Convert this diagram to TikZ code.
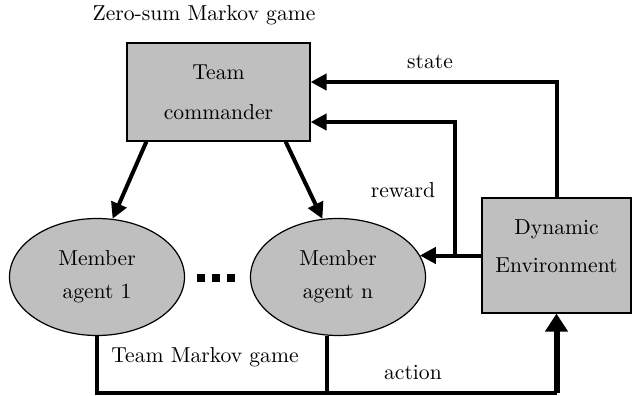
\documentclass[tikz,border=0pt]{standalone}
\usetikzlibrary{arrows.meta,shapes.geometric}
\begin{document}
\begin{tikzpicture}[x=0.5pt, y=-0.5pt,
    every node/.style={font=\rmfamily\fontsize{10.8}{13}\selectfont},
    box/.style={draw, fill=black!25, rectangle, line width=0.6pt, align=center},
    agent/.style={draw, fill=black!25, ellipse, line width=0.6pt, minimum width=87.5pt, minimum height=58.5pt, align=center, font=\rmfamily\fontsize{10.8}{16.5}\selectfont},
    link/.style={line width=2pt},
    flow/.style={line width=2pt, -{Triangle[length=8pt, width=8pt]}}]
  \useasboundingbox (0,0) rectangle (633,396);
  % Boxes and agents
  \node (title) at (204,15) {Zero-sum Markov game};
  \node[box, minimum width=91.5pt, minimum height=49pt, font=\rmfamily\fontsize{10.8}{20}\selectfont] (cmd) at (218.5,92) {Team\\commander};
  \node[box, minimum width=74.5pt, minimum height=57.5pt] (env) at (556.5,255.5) {};
  \node[align=center, font=\rmfamily\fontsize{10.8}{19}\selectfont] (envtext) at (env.center) [yshift=4.5pt] {Dynamic\\Environment};
  \node[agent] (agent1) at (97,277) {Member\\agent 1};
  \node[agent] (agentn) at (338,277) {Member\\agent n};
  \foreach \x in {201,216,231} \fill (\x-4,274) rectangle ++(8,8);
  % Commander to agents
  \draw[flow] ([xshift=10pt]cmd.south west) -- (agent1.75);
  \draw[flow] ([xshift=-12.5pt]cmd.south east) -- (agentn.105);
  % State and reward
  \draw[flow] (env.north) |- ([yshift=5pt]cmd.east);
  \coordinate (rj) at (455,255.5);
  \draw[flow] (env.west) -- (agentn.15 |- env.west);
  \draw[flow] (rj) |- ([yshift=-15pt]cmd.east);
  % Action
  \coordinate (bot) at (97,393);
  \draw[link] (agent1.south) |- (env.south |- bot);
  \draw[link] ([xshift=-5.5pt]agentn.south) -- ([xshift=-5.5pt]agentn.south |- bot);
  \draw[line width=3pt, -{Triangle[length=9pt, width=11pt]}] (env.south |- bot) -- (env.south);
  % Labels
  \node (lstate) at (430,62) {state};
  \node (lreward) at (403,190) {reward};
  \node (lteam) at (205,357) {Team Markov game};
  \node (laction) at (413,373) {action};
\end{tikzpicture}
\end{document}
